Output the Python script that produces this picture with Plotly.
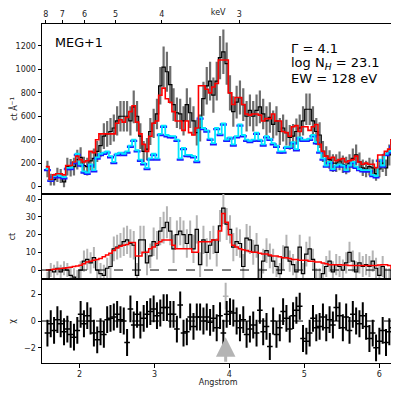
import numpy as np
import plotly.graph_objects as go

# wavelength grid (Angstrom), 105 bins
edges = np.linspace(1.55, 6.2, 106)
centers = (edges[:-1] + edges[1:]) / 2

# top panel: counts per Angstrom
top_data = [150, 60, 60, 100, 90, 40, 170, 160, 170, 230,
            250, 180, 170, 220, 240, 300, 350, 430, 450, 470,
            500, 560, 600, 600, 600, 560, 680, 600, 430, 300,
            320, 470, 540, 620, 860, 1020, 980, 870, 700, 630,
            620, 560, 700, 630, 560, 460, 500, 750, 860, 900,
            780, 900, 1100, 1150, 1050, 800, 640, 720, 760, 700,
            600, 650, 600, 650, 680, 620, 560, 590, 530, 560,
            470, 500, 460, 420, 430, 470, 500, 560, 660, 660,
            560, 470, 440, 300, 260, 230, 200, 200, 220, 190,
            180, 200, 240, 270, 210, 160, 150, 170, 160, 110,
            150, 200, 160, 270, 400]
top_err = [70, 50, 50, 60, 60, 45, 75, 75, 75, 85,
           85, 75, 75, 80, 85, 90, 100, 110, 110, 115,
           115, 125, 130, 130, 130, 125, 140, 130, 110, 90,
           95, 115, 125, 130, 160, 175, 170, 160, 140, 130,
           130, 125, 140, 130, 125, 110, 115, 145, 160, 165,
           150, 165, 185, 190, 180, 150, 130, 140, 145, 140,
           130, 135, 130, 135, 140, 130, 125, 130, 120, 125,
           115, 115, 110, 105, 105, 110, 115, 125, 135, 135,
           125, 115, 110, 90, 85, 80, 75, 75, 80, 75,
           75, 75, 85, 90, 80, 70, 70, 75, 70, 60,
           70, 75, 70, 90, 110]
top_model = [170, 60, 100, 110, 110, 100, 180, 180, 210, 260,
             230, 210, 220, 300, 290, 400, 450, 450, 450, 450,
             450, 540, 570, 550, 590, 640, 690, 550, 450, 360,
             300, 430, 540, 560, 780, 840, 750, 720, 640, 560,
             560, 480, 560, 460, 440, 500, 860, 860, 830, 800,
             850, 880, 1080, 1080, 1080, 800, 700, 760, 760, 700,
             620, 610, 620, 620, 610, 560, 580, 580, 620, 560,
             560, 470, 460, 430, 510, 520, 470, 510, 510, 480,
             510, 530, 360, 300, 260, 240, 250, 220, 230, 240,
             210, 220, 230, 260, 210, 190, 200, 190, 190, 160,
             270, 270, 300, 320, 400]
top_cont = [150, 60, 90, 100, 90, 80, 160, 160, 210, 280,
            190, 130, 120, 190, 140, 250, 280, 290, 300, 260,
            210, 280, 290, 280, 300, 350, 400, 310, 230, 200,
            160, 240, 280, 240, 450, 520, 440, 430, 430, 400,
            240, 330, 270, 270, 260, 220, 590, 500, 480, 410,
            370, 500, 450, 540, 400, 420, 360, 430, 530, 440,
            400, 390, 400, 460, 400, 360, 430, 410, 370, 350,
            300, 300, 340, 340, 380, 320, 420, 400, 400, 410,
            440, 380, 300, 240, 180, 210, 150, 180, 190, 180,
            140, 180, 210, 170, 150, 140, 140, 140, 100, 90,
            230, 180, 280, 300, 350]

# middle panel: counts
mid_data = [-5, 0, -1, 1, -1, 1, 0, -3, -4, -5,
            0, 5, 6, 4, 7, 0, -2, -3, 1, 2,
            12, 13, 14, 16, 17, 15, 14, -3, 17, 17,
            4, 8, 16, 14, 22, 24, 27, 22, 12, 20,
            22, 20, 15, 20, 12, 23, 3, 17, 10, 14,
            17, 10, 25, 35, 26, 23, 13, 16, 15, 2,
            18, 17, 10, 14, -5, 5, 11, 8, 5, 2,
            -2, 7, 13, 5, 3, -1, 13, -2, 9, 12,
            6, -5, -5, -2, 2, 5, -1, 3, 2, 0,
            4, 10, 5, -1, 4, 2, 3, 2, 5, 1,
            -3, 2, -5, -5, 0]
mid_err = [4, 4, 4, 4, 4, 4, 4, 5, 5, 5,
           5, 6, 6, 6, 6, 6, 6, 6, 6, 7,
           7, 7, 7, 8, 8, 8, 8, 7, 8, 8,
           7, 7, 8, 8, 8, 9, 9, 8, 8, 8,
           8, 8, 8, 8, 8, 8, 7, 8, 8, 8,
           8, 8, 9, 9, 9, 8, 8, 8, 8, 7,
           8, 8, 7, 7, 6, 7, 7, 7, 7, 6,
           6, 7, 7, 6, 6, 6, 7, 6, 7, 7,
           6, 6, 6, 6, 6, 6, 6, 6, 6, 6,
           6, 6, 6, 6, 6, 6, 6, 6, 6, 6,
           6, 6, 6, 6, 6]
mid_model = [0, 0.2, 0.4, 0.6, 0.8, 1, 1.3, 1.6, 2, 2.3,
             2.7, 3.5, 4.5, 5, 5.5, 6, 6.5, 7.5, 8.5, 9.5,
             11, 12.5, 13.5, 14, 14.5, 15.5, 15.5, 8, 8, 10,
             10, 12, 13, 15, 16, 17, 17, 17, 14, 12,
             12, 12, 12, 12, 10, 10, 16, 16, 16, 16,
             17, 17, 22, 32, 27, 20, 14, 13, 12, 11.5,
             11, 10.5, 10, 10, 9.5, 9, 9, 8.5, 8, 8,
             7.5, 7, 7, 6.5, 6, 6, 5.5, 5.5, 5.5, 5,
             5, 4.5, 4.5, 4, 3.5, 3, 3, 3, 3, 2.8,
             2.8, 2.5, 2.5, 2.5, 2.5, 2.5, 2.5, 2.5, 2.5, 2.5,
             2.8, 3, 3, 2.5, 1]

# bottom panel: residuals (chi)
resid = [-0.9, -0.2, -0.7, 0.1, -0.2, -0.8, -0.6, -1.0, -1.2, -0.7,
         0.5, -0.2, 0.4, 0.0, -0.9, -1.4, -0.8, -1.0, 0.1, 0.2,
         0.3, 0.5, 0.1, 0.0, -1.6, 0.9, -0.3, 0.5, -0.3, 0.2,
         0.5, 0.7, 0.9, 0.4, 0.6, 1.0, 1.0, 0.5, 0.5, -0.6,
         1.2, -0.9, -0.8, 0.3, -0.4, 0.3, 0.3, 0.0, 0.3, -0.1,
         0.2, -0.5, 0.4, -0.9, 0.5, 0.7, 0.6, 0.0, -0.5, 0.1,
         -1.0, -0.6, -0.3, -0.9, 0.8, -0.8, -0.4, -1.9, 0.0, -1.0,
         -0.5, 0.7, 0.2, -0.6, 0.4, 0.8, 1.1, -1.3, -1.5, -0.9,
         0.2, -0.5, -0.4, 0.3, -0.5, 0.1, -0.3, 1.0, 0.4, -0.5,
         0.3, -0.7, 0.5, 0.0, -0.2, 0.4, -0.4, -1.3, -0.9, -2.0,
         -1.5, -0.7, -1.6, -0.8, -0.5]
resid_err = 1.0

# ignored line bin (grey point + arrow)
line_wl = 3.95
line_resid = 1.85

kev_ticks = [8, 7, 6, 5, 4, 3]
kev_edge = 2   # sits on the right border, drawn by hand

xstep = list(edges)
def stepy(v):
    return list(v) + [v[-1]]

fig = go.Figure()

# ---- top panel
fig.add_trace(go.Scatter(x=centers, y=top_data, mode='markers', marker=dict(size=1, color='rgba(0,0,0,0)'),
                         error_y=dict(type='data', array=top_err, color='#6e6e6e', thickness=2.2, width=0),
                         xaxis='x', yaxis='y'))
fig.add_trace(go.Scatter(x=xstep, y=stepy(top_data), mode='lines', line=dict(color='black', width=1.2, shape='hv'),
                         xaxis='x', yaxis='y'))
# blue model bins peeking out below the cyan steps
fig.add_trace(go.Scatter(x=centers, y=[v - 10 for v in top_cont], mode='markers',
                         marker=dict(symbol='line-ew-open', size=5, color='#1a1aff', line=dict(width=2.4, color='#1a1aff')),
                         xaxis='x', yaxis='y'))
fig.add_trace(go.Scatter(x=xstep, y=stepy(top_cont), mode='lines', line=dict(color='#00e8ff', width=1.8, shape='hv'),
                         xaxis='x', yaxis='y'))
fig.add_trace(go.Scatter(x=xstep, y=stepy(top_model), mode='lines', line=dict(color='#ff0000', width=1.6, shape='hv'),
                         xaxis='x', yaxis='y'))
# invisible trace so the keV axis is drawn
fig.add_trace(go.Scatter(x=[centers[0]], y=[top_data[0]], mode='markers', marker=dict(size=1, color='rgba(0,0,0,0)'),
                         xaxis='x4', yaxis='y', hoverinfo='skip'))

# ---- middle panel
fig.add_trace(go.Scatter(x=centers, y=mid_data, mode='markers', marker=dict(size=1, color='rgba(0,0,0,0)'),
                         error_y=dict(type='data', array=mid_err, color='#b4b4b4', thickness=2, width=0),
                         xaxis='x2', yaxis='y2'))
fig.add_trace(go.Scatter(x=xstep, y=stepy(mid_data), mode='lines', line=dict(color='black', width=1.2, shape='hv'),
                         xaxis='x2', yaxis='y2'))
fig.add_trace(go.Scatter(x=xstep, y=stepy(mid_model), mode='lines', line=dict(color='#ff0000', width=1.5, shape='hv'),
                         xaxis='x2', yaxis='y2'))

# ---- bottom panel
fig.add_trace(go.Scatter(x=[line_wl], y=[line_resid], mode='markers',
                         marker=dict(symbol='line-ew-open', size=4, color='#b4b4b4', line=dict(width=1.5, color='#b4b4b4')),
                         error_y=dict(type='constant', value=resid_err, color='#b4b4b4', thickness=2, width=0),
                         xaxis='x3', yaxis='y3'))
fig.add_trace(go.Scatter(x=centers, y=resid, mode='markers',
                         marker=dict(symbol='line-ew-open', size=4, color='black', line=dict(width=1.5, color='black')),
                         error_y=dict(type='constant', value=resid_err, color='black', thickness=2, width=0),
                         xaxis='x3', yaxis='y3'))

fig.add_shape(type='line', xref='x2 domain', yref='y2', x0=0, x1=1, y0=0, y1=0,
              line=dict(color='black', width=1, dash='dash'))
fig.add_shape(type='line', xref='x3 domain', yref='y3', x0=0, x1=1, y0=0, y1=0,
              line=dict(color='black', width=1, dash='dash'))

fig.add_annotation(x=line_wl, y=-1.2, ax=line_wl, ay=-3.15, xref='x3', yref='y3', axref='x3', ayref='y3',
                   showarrow=True, arrowhead=2, arrowsize=1.3, arrowwidth=3, arrowcolor='#b4b4b4', text='')

tick_font = dict(family='DejaVu Sans', size=8, color='#222')
title_font = dict(family='DejaVu Sans', size=8, color='#222')
ax_common = dict(showline=True, linecolor='black', linewidth=1, mirror=True, showgrid=False, zeroline=False,
                 ticks='outside', ticklen=3.5, tickwidth=0.8, tickcolor='black', tickfont=tick_font,
                 automargin=False)

# the page body adds an 8 px margin all round; keep the page from overflowing the window
H = 379
xr = [1.5, 6.2]
xd = [0.087, 0.988]
ytop = [0.5103, 0.957]
fig.update_layout(
    width=391, height=H, margin=dict(l=0, r=0, t=0, b=0, autoexpand=False),
    paper_bgcolor='white', plot_bgcolor='white', showlegend=False,
    xaxis=dict(domain=xd, anchor='y', range=xr, showticklabels=False, ticks='', automargin=False,
               showline=True, linecolor='black', linewidth=1, mirror=True, showgrid=False, zeroline=False),
    xaxis2=dict(domain=xd, anchor='y2', matches='x', range=xr, showticklabels=False, ticks='',
                automargin=False,
                showline=True, linecolor='black', linewidth=1, mirror=True, showgrid=False, zeroline=False),
    xaxis3=dict(domain=xd, anchor='y3', matches='x', range=xr, tickvals=[2, 3, 4, 5, 6],
                title=dict(text='Angstrom', font=title_font, standoff=3), **ax_common),
    xaxis4=dict(overlaying='x', anchor='y', side='top', range=xr, automargin=False, ticklabeloverflow='allow',
                tickvals=[12.398 / k for k in kev_ticks], ticktext=[str(k) for k in kev_ticks],
                title=dict(text='keV', font=title_font, standoff=3),
                showline=False, showgrid=False, zeroline=False, ticks='outside', ticklen=3.5, tickwidth=0.8,
                tickcolor='black', tickfont=tick_font),
    yaxis=dict(domain=ytop, anchor='x', range=[-60, 1385], tickvals=[0, 200, 400, 600, 800, 1000, 1200],
               title=dict(text='ct Å<sup>−1</sup>', font=title_font, standoff=8), **ax_common),
    yaxis2=dict(domain=[0.2839, 0.5103], anchor='x2', range=[-5.3, 43.2], tickvals=[0, 10, 20, 30, 40],
                title=dict(text='ct', font=title_font, standoff=8), **ax_common),
    yaxis3=dict(domain=[0.0625, 0.2839], anchor='x3', range=[-3.15, 3.1], tickvals=[-2, 0, 2],
                title=dict(text='χ', font=title_font, standoff=12), **ax_common),
)

# 2 keV tick on the right border
fig.add_shape(type='line', xref='x4', yref='paper', x0=12.398 / kev_edge, x1=12.398 / kev_edge,
              y0=ytop[1], y1=ytop[1] + 3.5 / H, line=dict(color='black', width=0.8))
fig.add_annotation(xref='x4', yref='paper', x=12.398 / kev_edge, y=0.980, xanchor='center', yanchor='middle',
                   text=str(kev_edge), showarrow=False, font=tick_font)

fig.add_annotation(xref='paper', yref='paper', x=0.116, y=0.910, xanchor='left', yanchor='middle',
                   text='MEG+1', showarrow=False, font=dict(family='DejaVu Sans', size=12.8, color='black'))
fig.add_annotation(xref='paper', yref='paper', x=0.7195, y=0.893, xanchor='left', yanchor='middle',
                   text='Γ = 4.1', showarrow=False, font=dict(family='DejaVu Sans', size=13, color='black'))
fig.add_annotation(xref='paper', yref='paper', x=0.7195, y=0.854, xanchor='left', yanchor='middle',
                   text='log N<sub><i>H</i></sub> = 23.1', showarrow=False,
                   font=dict(family='DejaVu Sans', size=13, color='black'))
fig.add_annotation(xref='paper', yref='paper', x=0.7195, y=0.815, xanchor='left', yanchor='middle',
                   text='EW = 128 eV', showarrow=False, font=dict(family='DejaVu Sans', size=13, color='black'))

fig.write_html("out.html")
